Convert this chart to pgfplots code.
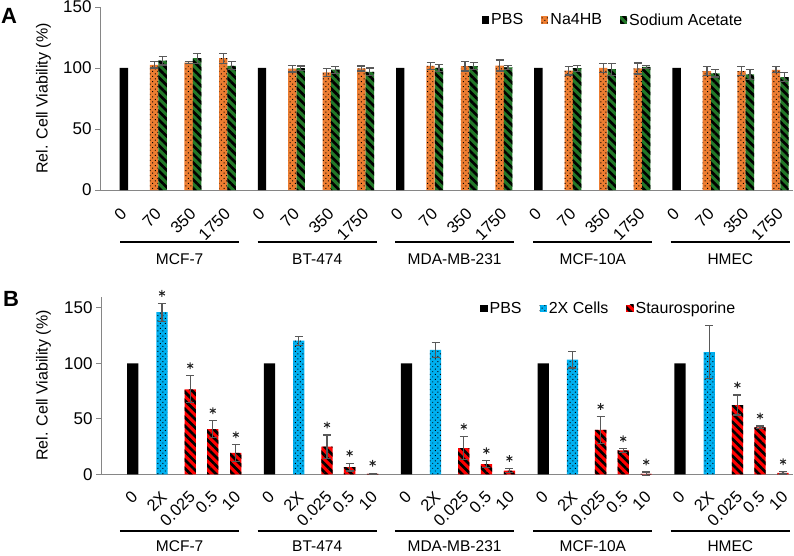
\documentclass[border=0pt]{standalone}
\usepackage{pgfplots}
\pgfplotsset{compat=1.18}
\usepackage{pgfplotstable}
\usetikzlibrary{patterns.meta}
\usepackage{fontspec}
\setmainfont{Liberation Sans}

\definecolor{naorange}{RGB}{237,125,49}
\definecolor{acgreen}{RGB}{34,120,40}
\definecolor{cellblue}{RGB}{0,176,240}
\definecolor{stred}{RGB}{255,0,0}
\definecolor{axisgray}{RGB}{134,134,134}
\definecolor{errgray}{RGB}{89,89,89}

% ---------- Panel A: sodium salts ----------
\pgfplotstableread{
x y
0 100
4 100
8 100
12 100
16 100
}\pbsA
\pgfplotstableread{
x y e
0.878 102.5 2.5
1.878 104.5 0.7
2.878 108.0 4.0
4.878 99.5 2.8
5.878 96.4 3.3
6.878 99.6 2.0
8.878 101.8 3.0
9.878 101.6 4.0
10.878 102.0 4.5
12.878 97.8 3.5
13.878 100.0 4.0
14.878 99.6 4.5
16.878 97.5 3.5
17.878 97.5 3.7
18.878 98.5 2.5
}\naA
\pgfplotstableread{
x y e
1.122 106.0 3.5
2.122 108.0 4.0
3.122 101.8 3.3
5.122 99.8 1.8
6.122 98.6 2.8
7.122 96.8 3.2
9.122 100.0 3.0
10.122 101.6 2.8
11.122 100.5 1.5
13.122 99.8 2.5
14.122 99.0 5.0
15.122 101.0 1.2
17.122 95.6 3.0
18.122 94.8 4.0
19.122 92.5 3.8
}\acA

% ---------- Panel B: controls ----------
\pgfplotstableread{
x y
0 100
5 100
10 100
15 100
20 100
}\pbsB
\pgfplotstableread{
x y e
1.067 146.0 8.0
6.067 120.4 4.0
11.067 112.0 6.6
16.067 103.3 7.5
21.067 110.0 24.0
}\cellsB
\pgfplotstableread{
x y e
2.098 76.6 12.2
2.924 40.8 7.5
3.765 19.2 7.5
7.098 25.0 10.5
7.924 6.5 3.5
8.765 0.5 0.5
12.098 23.5 10.5
12.924 9.2 3.0
13.765 3.3 2.0
17.098 40.0 12.0
17.924 21.5 1.5
18.765 0.5 1.5
22.098 62.4 9.0
22.924 42.3 1.2
23.765 1.3 1.1
}\stauB
% significance markers, set just above each error bar
\pgfplotstableread{
x y
1.067 163.0
2.098 97.8
2.924 57.3
3.765 35.7
7.098 44.5
7.924 19.0
8.765 10.0
12.098 43.0
12.924 21.2
13.765 14.3
17.098 61.0
17.924 32.0
18.765 11.0
22.098 80.4
22.924 52.5
23.765 11.4
}\starB

\newcommand{\tickfont}{\fontsize{17}{17}\selectfont}
\newcommand{\labfont}{\fontsize{16}{16}\selectfont}
\newcommand{\xlabfont}{\fontsize{16.5}{16.5}\selectfont}
\newcommand{\groupfont}{\fontsize{15.5}{15.5}\selectfont}

\pgfplotsset{
  panel/.style={
    scale only axis,
    clip=false,
    axis x line*=bottom,
    axis y line*=left,
    axis line style={color=axisgray, line width=1pt},
    ymin=0,
    tick align=outside,
    major tick length=5pt,
    ytick style={color=axisgray, line width=0.8pt},
    xtick style={draw=none},
    yticklabel style={font=\tickfont},
    /pgf/number format/assume math mode=true,
    ylabel={Rel. Cell Viability (\%)},
    ylabel style={font=\labfont},
    legend cell align=left,
    legend style={draw=none, fill=none, legend columns=-1, font=\labfont,
      inner sep=0pt, nodes={inner sep=2pt},
      /tikz/every even column/.append style={column sep=16pt}},
  },
  bar/.style={ybar, bar shift=0pt, bar width=#1, draw=none,
    legend image code/.code={\path[##1, draw=none] (0pt,-3.6pt) rectangle (7.2pt,3.6pt);}},
  errs/.style={
    /pgfplots/error bars/y dir=both,
    /pgfplots/error bars/y explicit,
    /pgfplots/error bars/error bar style={color=errgray, line width=1.2pt},
    /pgfplots/error bars/error mark options={rotate=90, color=errgray, mark size=4pt, line width=1.2pt}},
  dotted fill/.style={postaction={pattern={Dots[distance=3.6pt, radius=0.7pt, angle=45]}, pattern color=black}},
  striped fill/.style={postaction={pattern={Lines[angle=-45, distance=6pt, line width=2.7pt]}, pattern color=black}},
}

\begin{document}
\begin{tikzpicture}
\useasboundingbox (0,0) rectangle (794pt,555pt);

% Panel A
\begin{axis}[panel,
  at={(100pt,365pt)}, anchor=south west,
  width=693pt, height=183pt,
  xmin=-0.689, xmax=19.369,
  ymax=150, ytick={0,50,100,150},
  xtick={0,...,19},
  xticklabels={0,70,350,1750,0,70,350,1750,0,70,350,1750,0,70,350,1750,0,70,350,1750},
  xticklabel style={font=\xlabfont, xshift=0pt, yshift=-16pt, rotate=45, anchor=east, inner sep=0pt},
  ylabel style={at={(axis description cs:-0.0815,0.5)}, anchor=center},
  legend style={at={(0.551,0.929)}, anchor=west},
]
\addplot[bar=0.243, fill=black] table[x=x, y=y] {\pbsA};
\addlegendentry{PBS}
\addplot[bar=0.243, fill=naorange, dotted fill, errs] table[x=x, y=y, y error=e] {\naA};
\addlegendentry{Na4HB}
\addplot[bar=0.243, fill=acgreen, striped fill, errs] table[x=x, y=y, y error=e] {\acA};
\addlegendentry{Sodium Acetate}

\draw[line width=2pt] (axis cs:-0.11,-42.4) -- (axis cs:3.343,-42.4);
\draw[line width=2pt] (axis cs:3.876,-42.4) -- (axis cs:7.32,-42.4);
\draw[line width=2pt] (axis cs:7.85,-42.4) -- (axis cs:11.30,-42.4);
\draw[line width=2pt] (axis cs:11.85,-42.4) -- (axis cs:15.30,-42.4);
\draw[line width=2pt] (axis cs:15.83,-42.4) -- (axis cs:19.28,-42.4);
\node[font=\groupfont] at (axis cs:1.617,-57.1) {MCF-7};
\node[font=\groupfont] at (axis cs:5.598,-57.1) {BT-474};
\node[font=\groupfont] at (axis cs:9.575,-57.1) {MDA-MB-231};
\node[font=\groupfont] at (axis cs:13.575,-57.1) {MCF-10A};
\node[font=\groupfont] at (axis cs:17.555,-57.1) {HMEC};
\end{axis}

% Panel B
\begin{axis}[panel,
  at={(101pt,80.7pt)}, anchor=south west,
  width=692pt, height=177.6pt,
  xmin=-1.162, xmax=24.13,
  ymax=160, ytick={0,50,100,150},
  xtick={0,1.067,2.098,2.924,3.765,5,6.067,7.098,7.924,8.765,10,11.067,12.098,12.924,13.765,15,16.067,17.098,17.924,18.765,20,21.067,22.098,22.924,23.765},
  xticklabels={0,2X,0.025,0.5,10,0,2X,0.025,0.5,10,0,2X,0.025,0.5,10,0,2X,0.025,0.5,10,0,2X,0.025,0.5,10},
  xticklabel style={font=\xlabfont, xshift=2pt, yshift=-15pt, rotate=45, anchor=east, inner sep=0pt},
  ylabel style={at={(axis description cs:-0.0831,0.5)}, anchor=center},
  legend style={at={(0.548,0.935)}, anchor=west},
]
\addplot[bar=0.413, fill=black] table[x=x, y=y] {\pbsB};
\addlegendentry{PBS}
\addplot[bar=0.413, fill=cellblue, dotted fill, errs] table[x=x, y=y, y error=e] {\cellsB};
\addlegendentry{2X Cells}
\addplot[bar=0.413, fill=stred, striped fill, errs] table[x=x, y=y, y error=e] {\stauB};
\addlegendentry{Staurosporine}
\addplot[only marks, mark=asterisk, mark size=3.4pt, mark options={line width=1pt, color=black!85}, forget plot] table[x=x, y=y] {\starB};

\draw[line width=2pt] (axis cs:-0.468,-51.1) -- (axis cs:3.89,-51.1);
\draw[line width=2pt] (axis cs:4.565,-51.1) -- (axis cs:8.914,-51.1);
\draw[line width=2pt] (axis cs:9.58,-51.1) -- (axis cs:13.94,-51.1);
\draw[line width=2pt] (axis cs:14.64,-51.1) -- (axis cs:18.99,-51.1);
\draw[line width=2pt] (axis cs:19.66,-51.1) -- (axis cs:24.02,-51.1);
\node[font=\groupfont] at (axis cs:1.711,-64.4) {MCF-7};
\node[font=\groupfont] at (axis cs:6.74,-64.4) {BT-474};
\node[font=\groupfont] at (axis cs:11.76,-64.4) {MDA-MB-231};
\node[font=\groupfont] at (axis cs:16.815,-64.4) {MCF-10A};
\node[font=\groupfont] at (axis cs:21.84,-64.4) {HMEC};
\end{axis}

\node[font=\bfseries\fontsize{22}{22}\selectfont] at (9pt,539pt) {A};
\node[font=\bfseries\fontsize{22}{22}\selectfont] at (11pt,256pt) {B};
\end{tikzpicture}
\end{document}
